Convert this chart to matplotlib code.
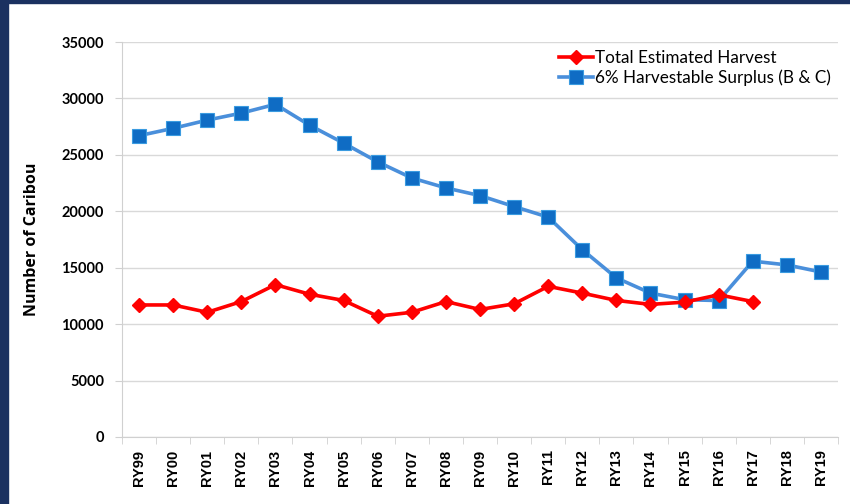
import matplotlib
matplotlib.use("Agg")
import matplotlib.pyplot as plt
from matplotlib.patches import Rectangle
import numpy as np

categories = ["RY99", "RY00", "RY01", "RY02", "RY03", "RY04", "RY05", "RY06", "RY07",
              "RY08", "RY09", "RY10", "RY11", "RY12", "RY13", "RY14", "RY15", "RY16",
              "RY17", "RY18", "RY19"]
harvest = [11700, 11700, 11050, 12000, 13500, 12650, 12100, 10700, 11050,
           12000, 11300, 11800, 13350, 12750, 12100, 11750, 11950, 12600, 12000]
surplus = [26700, 27350, 28080, 28700, 29480, 27630, 26040, 24380, 22950,
           22070, 21390, 20420, 19480, 16600, 14100, 12750, 12170, 12090,
           15580, 15250, 14620]
yticks = [0, 5000, 10000, 15000, 20000, 25000, 30000, 35000]

plt.rcParams['font.family'] = ['Lato', 'DejaVu Sans']

fig = plt.figure(figsize=(8.5, 5.04), dpi=100)
fig.patch.set_facecolor("white")
navy = "#1b3160"
fig.patches.append(Rectangle((0, 0), 8/850, 1, transform=fig.transFigure, color=navy, zorder=0))
fig.patches.append(Rectangle((0, 1 - 3/504), 1, 3/504, transform=fig.transFigure, color=navy, zorder=0))

ax = fig.add_axes([122/850, 1 - 437/504, (838 - 122)/850, (437 - 42)/504])
x = np.arange(len(categories))

ax.plot(x[:len(surplus)], surplus, color="#4a8fdb", lw=2.6, marker="s", ms=10,
        markerfacecolor="#0f6cc4", markeredgecolor="#3a9be0", markeredgewidth=0.8,
        label="6% Harvestable Surplus (B & C)", zorder=3)
ax.plot(x[:len(harvest)], harvest, color="#ff0000", lw=2.6, marker="D", ms=7.5,
        markerfacecolor="#ff0000", markeredgecolor="#ff0000",
        label="Total Estimated Harvest", zorder=4)

ax.set_xlim(-0.5, len(categories) - 0.5)
ax.set_ylim(0, 35000)
ax.set_yticks(yticks)
ax.set_yticklabels([str(v) for v in yticks], fontsize=10.5, fontweight="bold")
ax.set_xticks(x)
ax.set_xticklabels(categories, rotation=90, fontsize=10.5, fontweight="bold",
                   family=["Liberation Sans", "DejaVu Sans"])
ax.set_xticks(np.arange(-0.5, len(categories), 1), minor=True)
ax.tick_params(axis="x", which="major", length=0, pad=9)
ax.tick_params(axis="x", which="minor", length=5, color="#d0d0d0")
ax.tick_params(axis="y", length=5, color="#d0d0d0", pad=8)

ax.grid(axis="y", color="#d9d9d9", lw=1)
ax.set_axisbelow(True)
for s in ["top", "right"]:
    ax.spines[s].set_visible(False)
for s in ["left", "bottom"]:
    ax.spines[s].set_color("#d0d0d0")

ax.set_ylabel("Number of Caribou", fontsize=11.5, fontweight="bold",
              family=["Open Sans", "DejaVu Sans"])
ax.yaxis.set_label_coords((40 - 122) / 716, 0.5)

h, l = ax.get_legend_handles_labels()
leg = ax.legend(h[::-1], l[::-1], loc="upper left", bbox_to_anchor=(0.601, 0.998),
                frameon=False, fontsize=12.3, handlelength=2.0, handletextpad=0.1,
                labelspacing=0.25, borderaxespad=0)

fig.savefig("out.png", dpi=100)
